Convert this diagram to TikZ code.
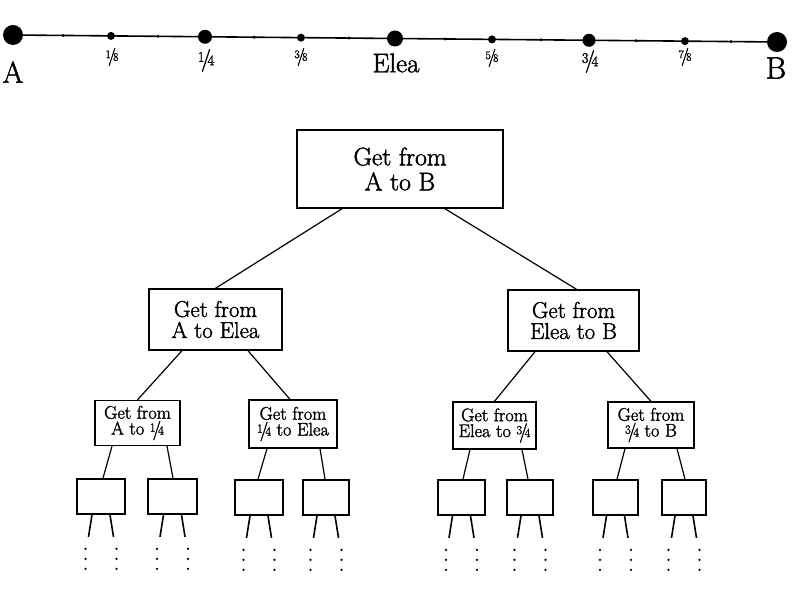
\documentclass[tikz,border=0pt]{standalone}
\usepackage{graphicx}
\usepackage{fontspec}
\setmainfont{Latin Modern Roman}[FakeBold=1.6]
\newcommand\myfr[2]{\raisebox{0.36ex}{\scalebox{0.68}{#1}}\kern-0.16em\raisebox{-0.1ex}{\scalebox{1}[1.05]{/}}\kern-0.16em\scalebox{0.68}{#2}}
\begin{document}
\begin{tikzpicture}[x=1pt,y=-1pt,
  bigdot/.style={circle,fill=black,inner sep=0pt,minimum size=#1},
  tick/.style={circle,fill=black,inner sep=0pt,minimum size=3.2pt},
  axis/.style={line width=1.6pt},
  lbl/.style={inner sep=0pt,font=\fontsize{#1}{#1}\selectfont},
  boxA/.style={draw,line width=1.5pt,align=center,inner sep=0pt,font=\fontsize{25.5}{25}\selectfont},
  boxB/.style={draw,line width=1.4pt,align=center,inner sep=0pt,font=\fontsize{22.8}{21}\selectfont},
  boxC/.style={draw,line width=1.3pt,align=center,inner sep=0pt,font=\fontsize{18.3}{15.8}\selectfont},
  boxD/.style={draw,line width=1.7pt,inner sep=0pt,minimum height=35pt},
  edge/.style={line width=1.2pt},
  leg/.style={line width=1.6pt}]
\fill[white] (0,0) rectangle (793,601);
\useasboundingbox (0,0) rectangle (793,601);

% number line
\node[bigdot=20pt] (pA) at (13,35) {};
\node[bigdot=20pt] (pB) at (777,42) {};
\draw[axis] (pA) -- (pB);
\foreach \x/\y in {63/35.46,158/36.33,254/37.2,349/38.08,445/38.96,541/39.84,636/40.71,731/41.58}
  \node[tick] at (\x,\y) {};
\node[bigdot=8pt] (p18) at (111,35.9) {};
\node[bigdot=8pt] (p38) at (301,37.64) {};
\node[bigdot=8pt] (p58) at (492,39.39) {};
\node[bigdot=8pt] (p78) at (685,41.16) {};
\node[bigdot=14pt] (p14) at (205,36.76) {};
\node[bigdot=13pt] (p34) at (589,40.28) {};
\node[bigdot=16pt] (pE) at (395,38.5) {};

\node[lbl=30] (tA) at (13,72) {A};
\node[lbl=31] (tB) at (776,68) {B};
\node[lbl=27] (tE) at (396,63) {Elea};
\node[lbl=17] (t18) at (112,57) {\myfr18};
\node[lbl=17] (t38) at (301,57) {\myfr38};
\node[lbl=17] (t58) at (492,58) {\myfr58};
\node[lbl=17] (t78) at (685,57) {\myfr78};
\node[lbl=21.5] (t14) at (206,60.5) {\myfr14};
\node[lbl=21.5] (t34) at (590,61.5) {\myfr34};

% tree boxes
\node[boxA,minimum width=206pt,minimum height=78pt] (root) at (400,169) {Get from\\A to B};
\node[boxB,minimum width=133pt,minimum height=61pt] (L) at (215.5,319.5) {Get from\\A to Elea};
\node[boxB,minimum width=131pt,minimum height=61pt] (R) at (573.5,320.5) {Get from\\Elea to B};
\node[boxC,minimum width=85pt,minimum height=45pt] (LL) at (137.5,423) {Get from\\A to \myfr14};
\node[boxC,minimum width=88pt,minimum height=48pt] (LR) at (293,424) {Get from\\\myfr14\ to Elea};
\node[boxC,minimum width=83pt,minimum height=47pt] (RL) at (494.5,425.5) {Get from\\Elea to \myfr34};
\node[boxC,minimum width=86pt,minimum height=46pt] (RR) at (651,425) {Get from\\\myfr34\ to B};

\node[boxD,minimum width=48pt] (a) at (101,496.5) {};
\node[boxD,minimum width=49pt] (b) at (172.5,496.5) {};
\node[boxD,minimum width=48pt] (c) at (259,497.5) {};
\node[boxD,minimum width=46pt] (d) at (326,497.5) {};
\node[boxD,minimum width=47pt] (e) at (461.5,497.5) {};
\node[boxD,minimum width=46pt] (f) at (530,497.5) {};
\node[boxD,minimum width=45pt] (g) at (615.5,497.5) {};
\node[boxD,minimum width=44pt] (h) at (684,497.5) {};

% connectors
\draw[edge] ([xshift=-58pt]root.south) -- (L.north);
\draw[edge] ([xshift=45pt]root.south) -- ([xshift=3pt]R.north);
\draw[edge] ([xshift=-33.5pt]L.south) -- (LL.north);
\draw[edge] ([xshift=32.5pt]L.south) -- ([xshift=-3pt]LR.north);
\draw[edge] ([xshift=-38.5pt]R.south) -- (RL.north);
\draw[edge] ([xshift=33.5pt]R.south) -- (RR.north);
\draw[edge] ([xshift=-25.5pt]LL.south) -- ([xshift=2pt]a.north);
\draw[edge] ([xshift=29.5pt]LL.south) -- ([xshift=0.5pt]b.north);
\draw[edge] ([xshift=-26pt]LR.south) -- ([xshift=-1pt]c.north);
\draw[edge] ([xshift=27pt]LR.south) -- ([xshift=-1pt]d.north);
\draw[edge] ([xshift=-24.5pt]RL.south) -- ([xshift=1.5pt]e.north);
\draw[edge] ([xshift=27.5pt]RL.south) -- ([xshift=-2pt]f.north);
\draw[edge] ([xshift=-26pt]RR.south) -- ([xshift=1.5pt]g.north);
\draw[edge] ([xshift=26pt]RR.south) -- ([xshift=1pt]h.north);

% legs and dots
\foreach \n in {a,b,c,d,e,f,g,h}{
  \path ([xshift=-12.5pt]\n.south) ++(0,22) coordinate (\n-l);
  \path ([xshift=12.5pt]\n.south) ++(0,22) coordinate (\n-r);
  \draw[leg] ([xshift=-9pt]\n.south) -- (\n-l);
  \draw[leg] ([xshift=9pt]\n.south) -- (\n-r);
  \foreach \yy in {12,22,32}{
    \fill (\n-l) ++(-3,\yy) circle (1.3pt);
    \fill (\n-r) ++(3,\yy) circle (1.3pt);
  }
}
\end{tikzpicture}
\end{document}
